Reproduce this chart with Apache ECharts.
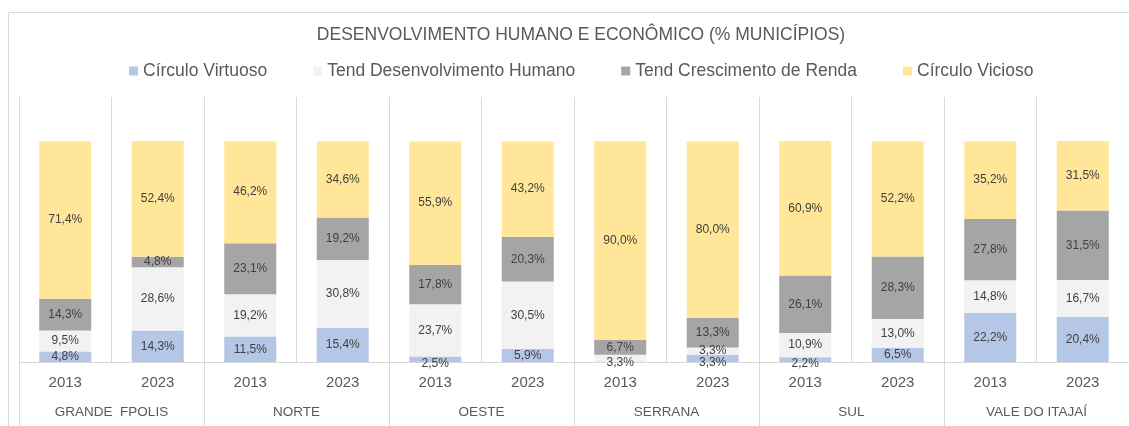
<!DOCTYPE html>
<html>
<head>
<meta charset="utf-8">
<script src="https://cdn.jsdelivr.net/npm/echarts@6/dist/echarts.min.js"></script>
<style>
  html, body { margin: 0; padding: 0; background: #fff; }
  #chart { width: 1129px; height: 426px; }
</style>
</head>
<body>
<div id="chart"></div>
<script>
// dados (% de municípios)
var anos = ['2013', '2023', '2013', '2023', '2013', '2023', '2013', '2023', '2013', '2023', '2013', '2023'];
var regioes = ['GRANDE  FPOLIS', 'NORTE', 'OESTE', 'SERRANA', 'SUL', 'VALE DO ITAJAÍ'];
var nomes = ['Círculo Virtuoso', 'Tend Desenvolvimento Humano', 'Tend Crescimento de Renda', 'Círculo Vicioso'];

var virtuoso = [4.8, 14.3, 11.5, 15.4, 2.5, 5.9, 0, 3.3, 2.2, 6.5, 22.2, 20.4];
var tendHumano = [9.5, 28.6, 19.2, 30.8, 23.7, 30.5, 3.3, 3.3, 10.9, 13.0, 14.8, 16.7];
var tendRenda = [14.3, 4.8, 23.1, 19.2, 17.8, 20.3, 6.7, 13.3, 26.1, 28.3, 27.8, 31.5];
var vicioso = [71.4, 52.4, 46.2, 34.6, 55.9, 43.2, 90.0, 80.0, 60.9, 52.2, 35.2, 31.5];

var cores = ['#b4c7e7', '#f2f2f2', '#a5a5a5', '#ffe699'];
var valores = [virtuoso, tendHumano, tendRenda, vicioso];

var myChart = echarts.init(document.getElementById('chart'));

function fmt(p) {
    if (!p.value) return '';
    return p.value.toFixed(1).replace('.', ',') + '%';
}

var series = valores.map(function (arr, i) {
    return {
        name: nomes[i],
        type: 'bar',
        stack: 'total',
        barWidth: 52,
        itemStyle: { color: cores[i] },
        label: {
            show: true,
            position: 'inside',
            formatter: fmt,
            color: '#404040',
            fontFamily: 'Liberation Sans',
            fontSize: 12
        },
        data: arr.map(function (v, j) {
            // rótulos pequenos na base descem um pouco (como no Excel)
            var abaixo = 0;
            for (var k = 0; k < i; k++) abaixo += valores[k][j];
            if (v > 0 && v < 4 && abaixo === 0) {
                return { value: v, label: { offset: [0, 4] } };
            }
            return v;
        })
    };
});

var option = {
    animation: false,
    title: {
        text: 'DESENVOLVIMENTO HUMANO E ECONÔMICO (% MUNICÍPIOS)',
        left: 576,
        textAlign: 'center',
        top: 21,
        textStyle: {
            fontFamily: 'Liberation Sans',
            fontWeight: 'normal',
            fontSize: 17.5,
            color: '#595959',
            letterSpacing: 1.3
        }
    },
    legend: {
        data: nomes,
        top: 57,
        left: 124,
        itemWidth: 9,
        itemHeight: 9,
        itemGap: 46,
        icon: 'rect',
        textStyle: {
            fontFamily: 'Liberation Sans',
            fontSize: 17.5,
            color: '#595959'
        }
    },
    graphic: [{
        type: 'rect',
        shape: { x: 8.5, y: 12.5, width: 1200, height: 500 },
        style: { fill: null, stroke: '#d9d9d9', lineWidth: 1 },
        silent: true
    }],
    grid: { left: 19, right: -4, top: 97, bottom: 64 },
    xAxis: [{
        type: 'category',
        data: anos,
        position: 'bottom',
        axisLine: { lineStyle: { color: '#d9d9d9' } },
        axisTick: { show: false },
        splitLine: { show: true, lineStyle: { color: '#d9d9d9' } },
        axisLabel: {
            margin: 13,
            fontFamily: 'Liberation Sans',
            fontSize: 15,
            color: '#595959',
            letterSpacing: 0.5
        }
    }, {
        type: 'category',
        data: regioes,
        position: 'bottom',
        axisLine: { show: false },
        axisTick: { show: true, length: 70, lineStyle: { color: '#d9d9d9' } },
        axisLabel: {
            margin: 43,
            fontFamily: 'Liberation Sans',
            fontSize: 13.5,
            color: '#595959',
            letterSpacing: 1
        }
    }],
    yAxis: {
        type: 'value',
        min: 0,
        max: 120,
        show: false,
        splitLine: { show: false }
    },
    series: series
};

myChart.setOption(option);
</script>
</body>
</html>
